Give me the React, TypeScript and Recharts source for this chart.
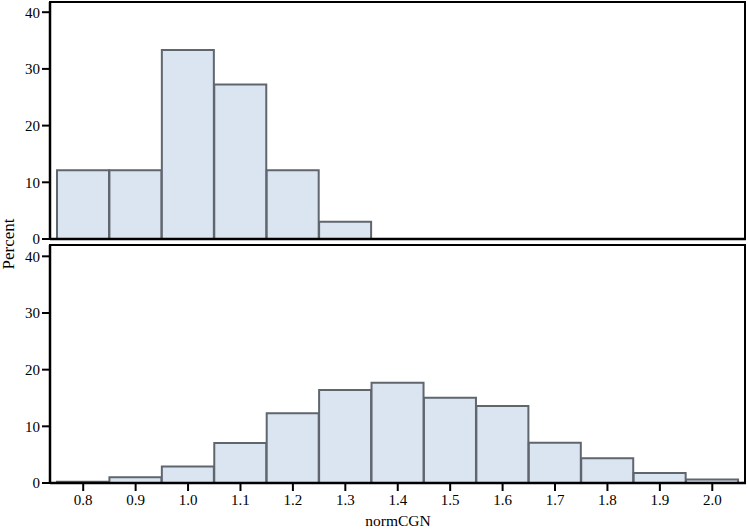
import React from "react";
import { BarChart, Bar, XAxis, YAxis } from "recharts";

const bins = ["0.8", "0.9", "1.0", "1.1", "1.2", "1.3", "1.4", "1.5", "1.6", "1.7", "1.8", "1.9", "2.0"];
const topPercent = [12.12, 12.12, 33.33, 27.27, 12.12, 3.03, 0, 0, 0, 0, 0, 0, 0];
const bottomPercent = [0.2, 1.0, 2.9, 7.05, 12.3, 16.4, 17.7, 15.05, 13.6, 7.1, 4.35, 1.76, 0.6];
const yTicks = [0, 10, 20, 30, 40];

const topData = bins.map((bin, i) => ({ bin, value: topPercent[i] }));
const bottomData = bins.map((bin, i) => ({ bin, value: bottomPercent[i] }));

const FONT = "Liberation Serif";
const tickStyle = { fill: "#000", fontSize: 15, fontFamily: FONT };
const axisLine = { stroke: "#000", strokeWidth: 2.5 };
const tickLine = { stroke: "#000", strokeWidth: 2 };
const BAR_FILL = "#dbe5f1";
const BAR_STROKE = "#5f666e";

function Panel({ data, max, showX }: { data: { bin: string; value: number }[]; max: number; showX: boolean }) {
  return (
    <BarChart
      width={748}
      height={showX ? 286 : 250}
      data={data}
      // top panel keeps some room below so its "0" label is not clipped
      margin={{ top: 2, right: 2, bottom: showX ? 0 : 9, left: 0 }}
      barCategoryGap={0}
      style={{ fontFamily: FONT }}
    >
      <XAxis
        dataKey="bin"
        padding={{ left: 7, right: 7.5 }}
        axisLine={axisLine}
        tickLine={showX ? tickLine : false}
        tick={showX ? tickStyle : false}
        tickSize={8}
        tickMargin={3}
        height={showX ? 46 : 2}
        interval={0}
        label={
          showX
            ? { value: "normCGN", position: "insideBottom", offset: 3, style: { fill: "#000", fontSize: 15.5, fontFamily: FONT } }
            : undefined
        }
      />
      <YAxis
        type="number"
        domain={[0, max]}
        ticks={yTicks}
        width={50}
        axisLine={axisLine}
        tickLine={tickLine}
        tick={tickStyle}
        tickSize={8}
        tickMargin={2}
        allowDataOverflow
      />
      <Bar
        dataKey="value"
        fill={BAR_FILL}
        stroke={BAR_STROKE}
        strokeWidth={2}
        isAnimationActive={false}
      />
    </BarChart>
  );
}

// top and right frame lines of a panel
function Frame({ top, height }: { top: number; height: number }) {
  return (
    <div
      style={{
        position: "absolute",
        left: 49,
        top,
        width: 748 - 2 - 49,
        height,
        borderTop: "2.5px solid #000",
        borderRight: "2.5px solid #000",
        boxSizing: "border-box",
        pointerEvents: "none",
      }}
    />
  );
}

export default function App() {
  return (
    <div style={{ position: "absolute", left: 0, top: 0, width: 748, height: 529, background: "#fff" }}>
      <div style={{ position: "absolute", left: 0, top: 0 }}>
        <Panel data={topData} max={41.8} showX={false} />
      </div>
      <div style={{ position: "absolute", left: 0, top: 243 }}>
        <Panel data={bottomData} max={42} showX={true} />
      </div>
      <Frame top={1} height={239} />
      <Frame top={244} height={240} />
      <div
        style={{
          position: "absolute",
          left: 9,
          top: 244,
          transform: "translate(-50%, -50%) rotate(-90deg)",
          fontFamily: FONT,
          fontSize: 17,
          color: "#000",
          whiteSpace: "nowrap",
        }}
      >
        Percent
      </div>
    </div>
  );
}
